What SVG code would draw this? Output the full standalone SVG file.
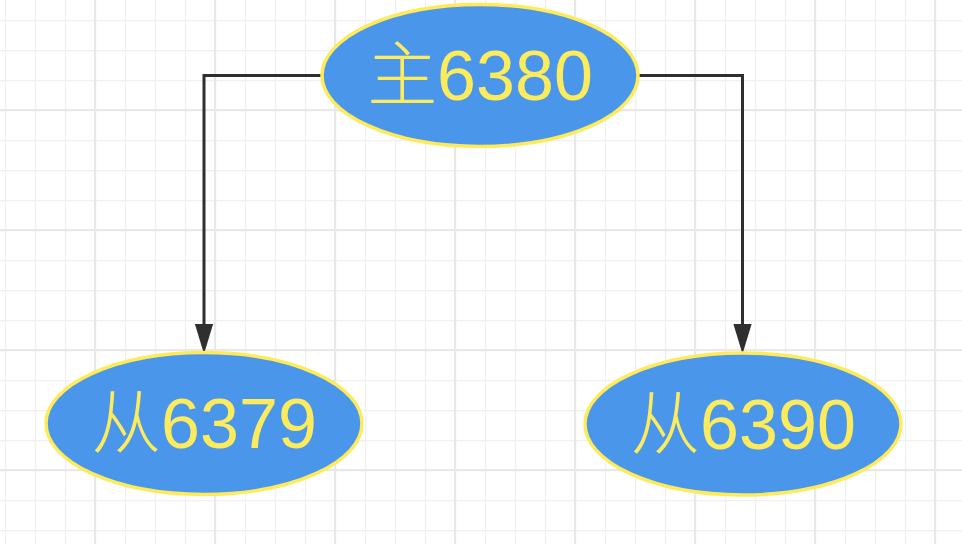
<svg xmlns="http://www.w3.org/2000/svg" width="962" height="544" viewBox="0 0 962 544">
  <style>
    .minor { stroke: #f0f0f0; stroke-width: 1.5; fill: none; }
    .major { stroke: #e8e8e8; stroke-width: 2; fill: none; }
    .node ellipse { fill: #4A96EA; stroke: #FFEB5A; stroke-width: 3.5; }
    .node text { fill: #FDEB5E; font-family: "Liberation Sans", "Noto Sans CJK SC", sans-serif; font-size: 70px; font-weight: 300; text-anchor: middle; }
    .edge { fill: none; stroke: #2f2f2f; stroke-width: 3; }
  </style>
  <defs>
    <pattern id="gridMinor" width="30" height="30" patternUnits="userSpaceOnUse" x="5" y="20">
      <path d="M0.5,0 V30 M0,0.5 H30" class="minor"/>
    </pattern>
    <pattern id="gridMajor" width="120" height="120" patternUnits="userSpaceOnUse" x="94" y="109">
      <path d="M1,0 V120 M0,1 H120" class="major"/>
    </pattern>
    <marker id="arrow" markerUnits="userSpaceOnUse" markerWidth="30" markerHeight="20" viewBox="0 0 28 17" refX="14" refY="8.5" orient="auto">
      <path d="M0,0 L28,8.5 L0,17 Z" fill="#2f2f2f"/>
    </marker>
  </defs>
  <rect width="962" height="544" fill="#ffffff"/>
  <rect width="962" height="544" fill="url(#gridMinor)"/>
  <rect width="962" height="544" fill="url(#gridMajor)"/>

  <g id="connectors">
    <path class="edge" d="M322,75.5 H204 V339" marker-end="url(#arrow)"/>
    <path class="edge" d="M638,75.5 H742.5 V339" marker-end="url(#arrow)"/>
  </g>

  <g id="master" class="node">
    <ellipse cx="480" cy="75.5" rx="158" ry="71"/>
    <text x="480" y="100">主6380</text>
  </g>
  <g id="slave6379" class="node">
    <ellipse cx="204" cy="423.5" rx="158" ry="71"/>
    <text x="204" y="448">从6379</text>
  </g>
  <g id="slave6390" class="node">
    <ellipse cx="743" cy="424" rx="158" ry="71"/>
    <text x="743" y="448.5">从6390</text>
  </g>
</svg>
